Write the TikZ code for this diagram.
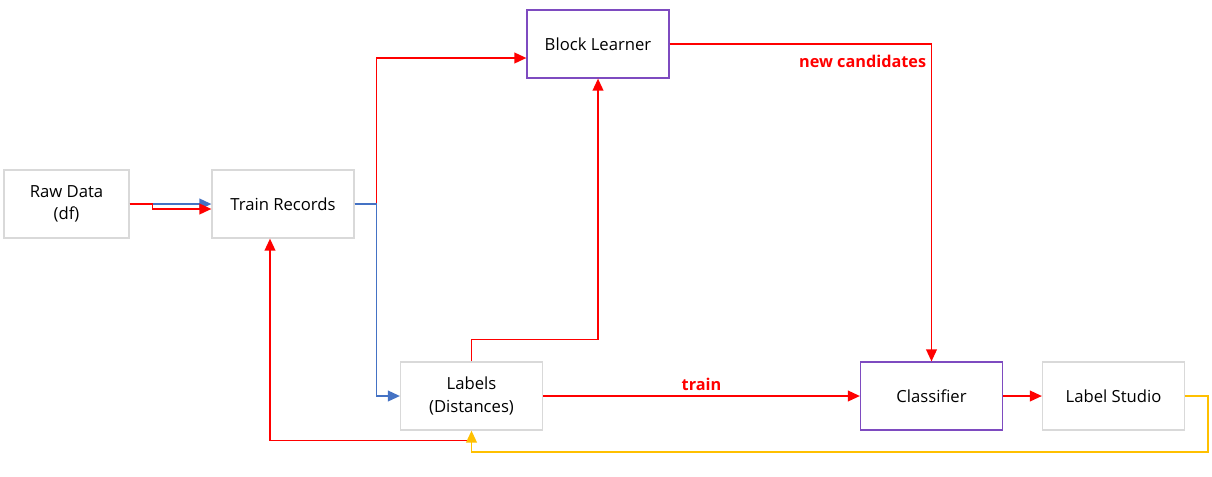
\documentclass[tikz,border=0pt]{standalone}
\usepackage{fontspec}
\setmainfont{Open Sans}
\usetikzlibrary{arrows.meta, positioning}
\definecolor{myred}{HTML}{FF0000}
\definecolor{myblue}{HTML}{4472C4}
\definecolor{myyellow}{HTML}{FFC000}
\definecolor{mypurple}{HTML}{7E4BC0}
\definecolor{mygray}{HTML}{D9D9D9}

\begin{document}
\begin{tikzpicture}[x=0.75pt, y=-0.75pt,
  box/.style={draw=mygray, line width=0.9pt, minimum width=106.5pt, minimum height=51pt,
    font=\fontsize{12.5}{17}\selectfont, align=center},
  learner/.style={box, draw=mypurple},
  arr/.style={-{Triangle[length=9pt, width=8pt]}, line width=1.3pt},
  lbl/.style={font=\fontsize{12.2}{15}\selectfont\bfseries, text=myred}
]
\useasboundingbox (0,0) rectangle (1212,476);
\node[box, minimum width=93.75pt] (raw) at (66.5,204) {Raw Data\\(df)};
\node[box] (train) at (283,204) {Train Records};
\node[learner] (block) at (598,44) {Block Learner};
\node[box] (labels) at (471.5,396) {Labels\\(Distances)};
\node[learner] (clf) at (931.5,396) {Classifier};
\node[box] (studio) at (1113.5,396) {Label Studio};
% raw data into training records
\draw[arr, myblue] (raw.east) -- (train.west);
\draw[arr, myred] (raw.east) -- ++(23,0) -- ++(0,5) -- ([yshift=-3.75pt]train.west);
% training records out
\draw[arr, myred] (train.east) -- ++(22,0) |- ([yshift=-10.5pt]block.west);
\draw[arr, myblue] (train.east) -- ++(22,0) |- (labels.west);
\draw[arr, myred] (labels.north) -- ++(0,-22) -| (block.south);
\draw[arr, myred] (block.east) -| node[lbl, anchor=north east, pos=0.5, yshift=-4pt] {new candidates} (clf.north);
\draw[arr, myred] (labels.east) -- node[lbl, above] {train} (clf.west);
\draw[arr, myred] (clf) -- (studio);
% feedback loops
\draw[arr, myred] ([yshift=-7.5pt]labels.south) -| ([xshift=-9.75pt]train.south);
\draw[arr, myyellow] (studio.east) -- ++(23,0) -- ++(0,56) -| (labels.south);
\end{tikzpicture}
\end{document}
